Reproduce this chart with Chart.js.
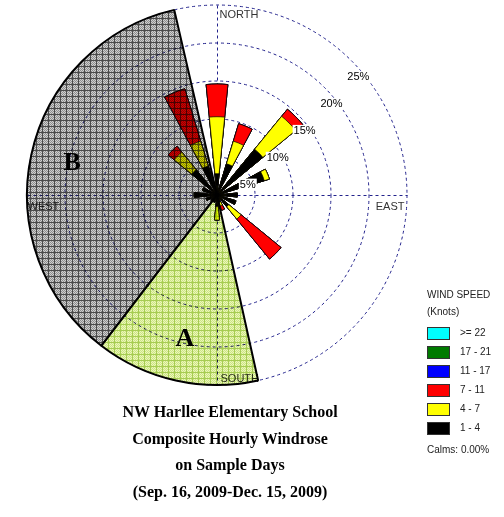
<!DOCTYPE html>
<html>
<head>
<meta charset="utf-8">
<script src="https://cdn.jsdelivr.net/npm/chart.js@4.4.1/dist/chart.umd.min.js"></script>
<style>
  body { margin: 0; background: #fff; }
  #wrap { position: relative; width: 504px; height: 517px; overflow: hidden; }
  #rose { position: absolute; left: 0; top: 0; }
  #legend { position: absolute; left: 427px; top: 0; font: 10px "Liberation Sans", Arial, sans-serif; color: #222; }
  #legend div { position: absolute; white-space: nowrap; }
  #legend .box { width: 21px; height: 11px; border: 1px solid #333; }
  #title { position: absolute; left: 0; top: 399px; width: 460px; text-align: center;
           font: bold 16px "Liberation Serif", "Times New Roman", serif; line-height: 26.5px; color: #000; }
</style>
</head>
<body>
<div id="wrap">
  <canvas id="rose" width="504" height="517"></canvas>
  <div id="legend"></div>
  <div id="title">NW Harllee Elementary School<br>Composite Hourly Windrose<br>on Sample Days<br>(Sep. 16, 2009-Dec. 15, 2009)</div>
</div>
<script>
// 16 compass directions, percent of hours per speed class (knots)
const directions = ['N', 'NNE', 'NE', 'ENE', 'E', 'ESE', 'SE', 'SSE', 'S', 'SSW', 'SW', 'WSW', 'W', 'WNW', 'NW', 'NNW'];
const speed1to4   = [2.8, 4.3, 7.8, 6.5, 2.7, 2.6, 2.0, 1.0, 1.5, 1.0, 1.0, 1.5, 3.0, 2.0, 4.3, 4.0];
const speed4to7   = [7.5, 3.1, 5.6, 0.7, 0, 0, 2.1, 0.5, 1.8, 0, 0, 0, 0, 0, 3.0, 3.4];
const speed7to11  = [4.3, 2.4, 1.2, 0, 0, 0, 6.8, 0.6, 0, 0, 0, 0, 0, 0, 1.0, 7.2];
const speed11to17 = [0, 0, 0, 0, 0, 0, 0, 0, 0, 0, 0, 0, 0, 0, 0, 0];
const speed17to21 = [0, 0, 0, 0, 0, 0, 0, 0, 0, 0, 0, 0, 0, 0, 0, 0];
const speed22up   = [0, 0, 0, 0, 0, 0, 0, 0, 0, 0, 0, 0, 0, 0, 0, 0];

const speedBins   = ['1 - 4', '4 - 7', '7 - 11', '11 - 17', '17 - 21', '>= 22'];
const speedColors = ['#000000', '#ffff00', '#ff0000', '#0000ff', '#007a00', '#00ffff'];
const speedSeries = [speed1to4, speed4to7, speed7to11, speed11to17, speed17to21, speed22up];

// shaded sectors (compass degrees) and their radius in percent
const sectorNames = ['A', 'B'];
const sectorFrom  = [167.5, 217.5];
const sectorTo    = [217.5, 347.0];
const sectorValue = [25, 25];

const radialTicks = [5, 10, 15, 20, 25];
const calms = '0.00%';

const gridColor = '#22228c';
const slot = 360 / (directions.length * 2);

function makePattern(line, light, dark) {
  const c = document.createElement('canvas');
  c.width = 6; c.height = 6;
  const g = c.getContext('2d');
  for (let y = 0; y < 6; y++) {
    for (let x = 0; x < 6; x++) {
      g.fillStyle = (x === 0 || y === 0) ? line : ((x + y) % 2 ? light : dark);
      g.fillRect(x, y, 1, 1);
    }
  }
  return g.createPattern(c, 'repeat');
}

const hatchA = makePattern('#a6cc52', '#eaf7ba', '#cde484');
const hatchB = makePattern('#4a4a4a', '#cfcfcf', '#8e8e8e');

// petals: one slot per direction followed by an empty slot, stacked cumulatively
function petalData(level) {
  const out = [];
  directions.forEach((d, i) => {
    let sum = 0;
    for (let k = 0; k <= level; k++) sum += speedSeries[k][i];
    out.push(sum, 0);
  });
  return out;
}

const petalDatasets = speedBins.map((bin, k) => ({
  label: bin,
  data: petalData(k),
  backgroundColor: speedColors[k],
  borderColor: '#000',
  borderWidth: ctx => ctx.dataIndex % 2 ? 0 : 0.7
}));

// sectors: leading gap, A, B, trailing gap
const startAngle = -slot / 2;
const sectorAngles = [sectorFrom[0] - startAngle];
sectorNames.forEach((n, i) => sectorAngles.push(sectorTo[i] - sectorFrom[i]));
sectorAngles.push(360 - sectorAngles.reduce((a, b) => a + b, 0));

const sectorDataset = {
  label: 'sectors',
  data: [0, ...sectorValue, 0],
  angle: ctx => sectorAngles[ctx.dataIndex],
  backgroundColor: ['rgba(0,0,0,0)', hatchA, hatchB, 'rgba(0,0,0,0)'],
  borderColor: ['rgba(0,0,0,0)', '#000', '#000', 'rgba(0,0,0,0)'],
  borderWidth: ctx => (ctx.dataIndex === 0 || ctx.dataIndex === 3) ? 0 : 2
};

const roseExtras = {
  id: 'roseExtras',
  beforeDatasetsDraw(chart) {
    const s = chart.scales.r;
    const ctx = chart.ctx;
    const cx = s.xCenter + 0.5, cy = s.yCenter + 0.5, R = s.drawingArea;
    ctx.save();
    ctx.strokeStyle = gridColor;
    ctx.lineWidth = 1;
    ctx.setLineDash([3, 3]);
    ctx.beginPath();
    ctx.moveTo(cx, cy - R); ctx.lineTo(cx, cy + R);
    ctx.moveTo(cx - R, cy); ctx.lineTo(cx + R, cy);
    ctx.stroke();
    ctx.setLineDash([]);
    ctx.fillStyle = '#333';
    ctx.font = '11px "Liberation Sans", Arial, sans-serif';
    ctx.textBaseline = 'middle';
    ctx.textAlign = 'left';
    ctx.fillText('NORTH', cx + 2, cy - R + 9);
    ctx.fillText('SOUTH', cx + 3, cy + R - 7);
    ctx.fillText('WEST', cx - R, cy + 11);
    ctx.textAlign = 'right';
    ctx.fillText('EAST', cx + R - 3, cy + 11);
    ctx.restore();
  },
  beforeDatasetDraw(chart, args) {
    if (args.index === 0) {
      chart.ctx.save();
      chart.ctx.globalCompositeOperation = 'multiply';
    }
  },
  afterDatasetDraw(chart, args) {
    if (args.index === 0) chart.ctx.restore();
  },
  afterDatasetsDraw(chart) {
    const s = chart.scales.r;
    const ctx = chart.ctx;
    const cx = s.xCenter, cy = s.yCenter;
    ctx.save();
    ctx.font = '11px "Liberation Sans", Arial, sans-serif';
    ctx.textBaseline = 'middle';
    ctx.textAlign = 'left';
    radialTicks.forEach(v => {
      const r = s.getDistanceFromCenterForValue(v);
      const x = cx + r * Math.SQRT1_2 - 4;
      const y = cy - r * Math.SQRT1_2 + 16.5;
      const txt = v + '%';
      const w = ctx.measureText(txt).width;
      ctx.fillStyle = '#fff';
      ctx.fillRect(x - 1, y - 6, w + 2, 12);
      ctx.fillStyle = '#000';
      ctx.fillText(txt, x, y);
    });
    ctx.font = 'bold 26px "Liberation Serif", "Times New Roman", serif';
    ctx.textAlign = 'center';
    sectorNames.forEach((name, i) => {
      const mid = (sectorFrom[i] + sectorTo[i]) / 2 * Math.PI / 180;
      const r = s.getDistanceFromCenterForValue(sectorValue[i] * 0.78);
      ctx.fillText(name, cx + r * Math.sin(mid), cy - r * Math.cos(mid));
    });
    ctx.restore();
  }
};

new Chart(document.getElementById('rose'), {
  type: 'polarArea',
  data: {
    labels: directions.flatMap(d => [d, '']),
    datasets: [sectorDataset, ...petalDatasets]
  },
  options: {
    responsive: false,
    animation: false,
    events: [],
    layout: { padding: { left: 27, top: 5, right: 96, bottom: 131 } },
    plugins: { legend: { display: false }, tooltip: { enabled: false } },
    scales: {
      r: {
        startAngle: startAngle,
        min: 0,
        max: 25,
        ticks: { stepSize: 5, display: false },
        grid: { circular: true, color: gridColor, lineWidth: 1 },
        border: { dash: [3, 3] },
        angleLines: { display: false },
        pointLabels: { display: false }
      }
    }
  },
  plugins: [roseExtras]
});

// legend, top entry is the highest speed class
const legend = document.getElementById('legend');
function addText(txt, top, left) {
  const d = document.createElement('div');
  d.textContent = txt;
  d.style.top = top + 'px';
  d.style.left = left + 'px';
  legend.appendChild(d);
}
addText('WIND SPEED', 289, 0);
addText('(Knots)', 306, 0);
speedBins.slice().reverse().forEach((bin, i) => {
  const k = speedBins.length - 1 - i;
  const top = 327 + i * 19;
  const box = document.createElement('div');
  box.className = 'box';
  box.style.top = top + 'px';
  box.style.left = '0px';
  box.style.background = speedColors[k];
  legend.appendChild(box);
  addText(bin, top, 33);
});
addText('Calms: ' + calms, 444, 0);
</script>
</body>
</html>
